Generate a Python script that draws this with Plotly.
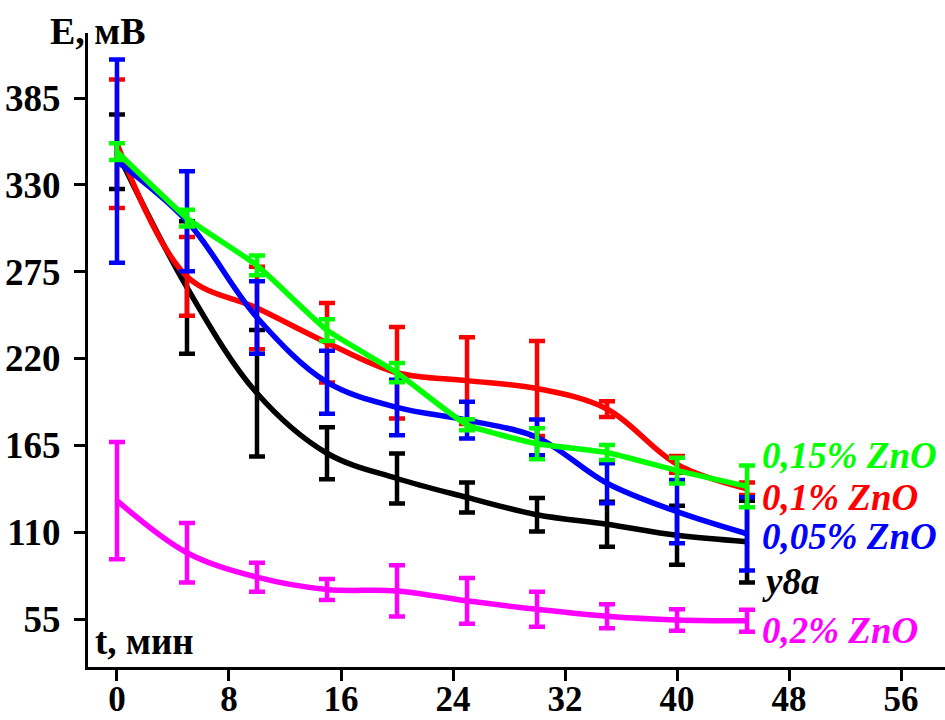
import plotly.graph_objects as go

t = [0, 5, 10, 15, 20, 25, 30, 35, 40, 45]

ufa = [351, 265, 198, 160, 144, 132, 121, 115, 108, 104]
ufa_err = [23.6, 42, 40, 16.4, 15.8, 9.5, 10.6, 14.2, 18.7, 25.9]

zno_01 = [356, 272, 252, 230, 211, 206, 201, 188, 153, 137.5]
zno_01_err = [40.7, 24.9, 26.2, 25.2, 29, 27.5, 30.1, 5, 5.3, 3.9]

zno_005 = [345, 307, 246, 205, 189, 181, 170, 141, 123, 109]
zno_005_err = [64.4, 31.7, 23, 20, 17.6, 11.6, 11.3, 12.7, 20, 23.2]

zno_015 = [351, 309, 279, 238, 211, 178, 166, 160.5, 149, 139]
zno_015_err = [5.3, 5.3, 6.2, 6.9, 6.1, 3.5, 9.8, 4.8, 8.2, 13.2]

zno_02 = [130, 97, 81.5, 73.7, 72.8, 66.5, 61.2, 56.7, 54.4, 53.9]
zno_02_err = [37.2, 18.8, 9.2, 6.7, 16.2, 14.5, 11.1, 7.6, 6.8, 6.9]

x_ticks = [0, 8, 16, 24, 32, 40, 48, 56]
y_ticks = [55, 110, 165, 220, 275, 330, 385]

series = [
    ("у8а", ufa, ufa_err, "#000000", 1.0),
    ("0,1% ZnO", zno_01, zno_01_err, "#FF0000", 1.0),
    ("0,05% ZnO", zno_005, zno_005_err, "#0000FF", 1.0),
    ("0,15% ZnO", zno_015, zno_015_err, "#00FF00", 0.4),
    ("0,2% ZnO", zno_02, zno_02_err, "#FF00FF", 1.0),
]

FONT = "Liberation Serif"

fig = go.Figure()
for name, vals, errs, col, sm in series:
    fig.add_trace(go.Scatter(
        x=t, y=vals, mode="lines", name=name,
        line=dict(color=col, width=5.5, shape="spline", smoothing=sm),
        error_y=dict(type="data", array=errs, visible=True, color=col,
                     thickness=4.5, width=8),
        cliponaxis=False,
    ))

labels = [
    ("0,15% ZnO", "#00FF00", 455),
    ("0,1% ZnO", "#FF0000", 497),
    ("0,05% ZnO", "#0000FF", 536),
    ("у8а", "#000000", 581),
    ("0,2% ZnO", "#FF00FF", 630),
]
for txt, col, ypx in labels:
    fig.add_annotation(
        x=(760 - 88) / 857, y=(667 - ypx) / 634, xref="paper", yref="paper",
        text=txt, showarrow=False, xanchor="left", yanchor="middle",
        font=dict(family=FONT, size=37, color=col, weight="bold", style="italic"),
    )

fig.add_annotation(
    x=(48 - 88) / 857, y=(667 - 31) / 634, xref="paper", yref="paper",
    text="E, мВ", showarrow=False, xanchor="left", yanchor="middle",
    font=dict(family=FONT, size=38, color="black", weight="bold"),
)
fig.add_annotation(
    x=(93 - 88) / 857, y=(667 - 641) / 634, xref="paper", yref="paper",
    text="t, мин", showarrow=False, xanchor="left", yanchor="middle",
    font=dict(family=FONT, size=37, color="black", weight="bold"),
)

fig.update_layout(
    width=945, height=720,
    margin=dict(l=88, r=0, t=33, b=53, autoexpand=False),
    paper_bgcolor="white", plot_bgcolor="white",
    showlegend=False,
)
fig.update_xaxes(
    range=[-2.07, 59.14], tickvals=x_ticks, ticktext=[str(v) for v in x_ticks],
    showline=True, linecolor="black", linewidth=3, ticks="outside",
    ticklen=11, tickwidth=3, tickcolor="black", showgrid=False, zeroline=False,
    tickfont=dict(family=FONT, size=35, color="black", weight="bold"),
    ticklabelstandoff=-12, automargin=False,
)
fig.update_yaxes(
    range=[24.6, 426.2], tickvals=y_ticks, ticktext=[str(v) for v in y_ticks],
    showline=True, linecolor="black", linewidth=3, ticks="outside",
    ticklen=11, tickwidth=3, tickcolor="black", showgrid=False, zeroline=False,
    tickfont=dict(family=FONT, size=37, color="black", weight="bold"),
    ticklabelstandoff=6, automargin=False,
)

fig.write_html("out.html")
